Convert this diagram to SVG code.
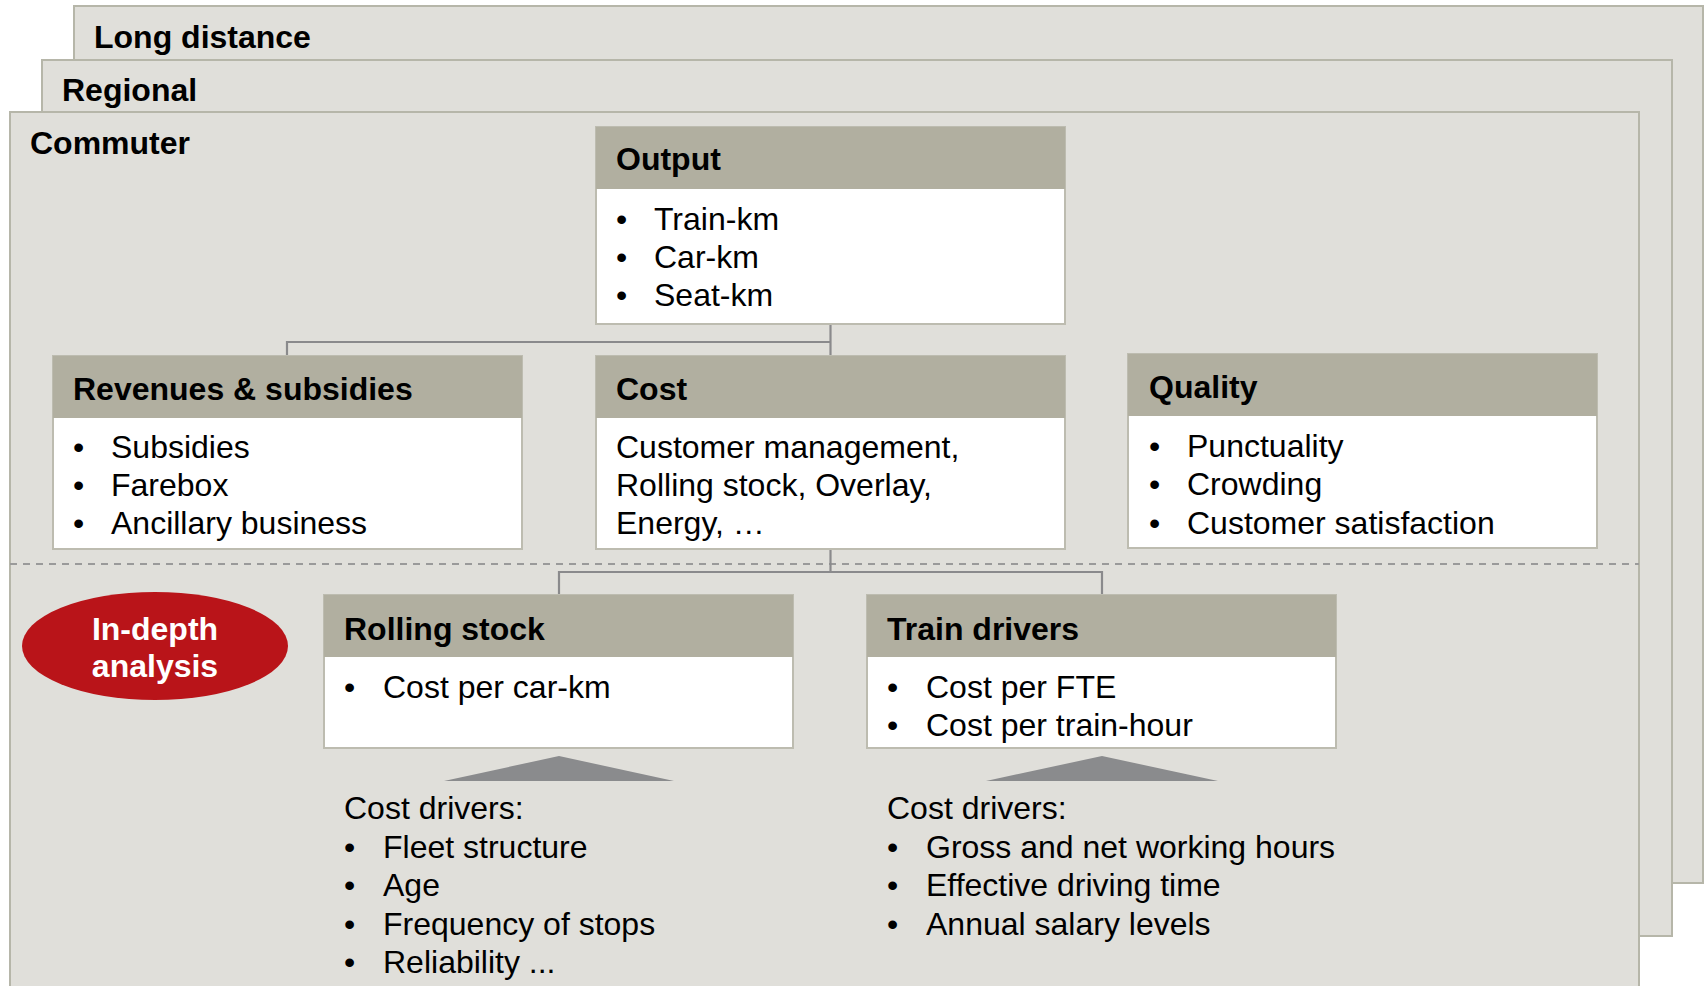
<svg xmlns="http://www.w3.org/2000/svg" width="1705" height="986" viewBox="0 0 1705 986">
<style>
.panel{fill:#E0DFDA;stroke:#B6B6A9;stroke-width:2}
.box{fill:#FFFFFF;stroke:#BDBCB0;stroke-width:2}
.hdr{fill:#B1AFA0}
.t{font-family:"Liberation Sans",Arial,sans-serif;font-size:32px;fill:#000}
.b{font-weight:bold}
.w{fill:#FFFFFF}
.conn{fill:none;stroke:#8A8A8C;stroke-width:2.2}
.tri{fill:#8A8B8D}
</style>
<rect width="1705" height="986" fill="#FFFFFF"/>
<g id="panel-long-distance">
<rect class="panel" x="74" y="6" width="1629" height="877"/>
<text class="t b" x="94" y="48">Long distance</text>
</g>
<g id="panel-regional">
<rect class="panel" x="42" y="60" width="1630" height="876"/>
<text class="t b" x="62" y="101">Regional</text>
</g>
<g id="panel-commuter">
<rect class="panel" x="10" y="112" width="1629" height="880"/>
<text class="t b" x="30" y="154">Commuter</text>
<line x1="10" y1="564" x2="1639" y2="564" stroke="#9A9A9A" stroke-width="2" stroke-dasharray="7,6"/>
</g>
<g id="connectors">
<polyline class="conn" points="830.5,324 830.5,355"/>
<polyline class="conn" points="287,356 287,342 830.5,342"/>
<polyline class="conn" points="830.5,549 830.5,572"/>
<polyline class="conn" points="559,595 559,572 1102,572 1102,595"/>
</g>
<g id="node-output">
<rect class="box" x="596" y="127" width="469" height="197"/>
<rect class="hdr" x="596" y="127" width="469" height="62"/>
<text class="t b" x="616" y="170">Output</text>
<text class="t" x="616" y="230">•</text><text class="t" x="654" y="230">Train-km</text>
<text class="t" x="616" y="268">•</text><text class="t" x="654" y="268">Car-km</text>
<text class="t" x="616" y="306">•</text><text class="t" x="654" y="306">Seat-km</text>
</g>
<g id="node-revenues">
<rect class="box" x="53" y="356" width="469" height="193"/>
<rect class="hdr" x="53" y="356" width="469" height="62"/>
<text class="t b" x="73" y="400">Revenues &amp; subsidies</text>
<text class="t" x="73" y="457.5">•</text><text class="t" x="111" y="457.5">Subsidies</text>
<text class="t" x="73" y="495.5">•</text><text class="t" x="111" y="495.5">Farebox</text>
<text class="t" x="73" y="533.5">•</text><text class="t" x="111" y="533.5">Ancillary business</text>
</g>
<g id="node-cost">
<rect class="box" x="596" y="356" width="469" height="193"/>
<rect class="hdr" x="596" y="356" width="469" height="62"/>
<text class="t b" x="616" y="400">Cost</text>
<text class="t" x="616" y="457.5">Customer management,</text>
<text class="t" x="616" y="495.5">Rolling stock, Overlay,</text>
<text class="t" x="616" y="533.5">Energy, …</text>
</g>
<g id="node-quality">
<rect class="box" x="1128" y="354" width="469" height="194"/>
<rect class="hdr" x="1128" y="354" width="469" height="62"/>
<text class="t b" x="1149" y="398">Quality</text>
<text class="t" x="1149" y="457">•</text><text class="t" x="1187" y="457">Punctuality</text>
<text class="t" x="1149" y="495">•</text><text class="t" x="1187" y="495">Crowding</text>
<text class="t" x="1149" y="533.5">•</text><text class="t" x="1187" y="533.5">Customer satisfaction</text>
</g>
<g id="node-in-depth">
<ellipse cx="155" cy="646" rx="133" ry="54" fill="#B91419"/>
<text class="t b w" x="155" y="640" text-anchor="middle">In-depth</text>
<text class="t b w" x="155" y="677" text-anchor="middle">analysis</text>
</g>
<g id="node-rolling-stock">
<rect class="box" x="324" y="595" width="469" height="153"/>
<rect class="hdr" x="324" y="595" width="469" height="62"/>
<text class="t b" x="344" y="640">Rolling stock</text>
<text class="t" x="344" y="698">•</text><text class="t" x="383" y="698">Cost per car-km</text>
</g>
<g id="node-train-drivers">
<rect class="box" x="867" y="595" width="469" height="153"/>
<rect class="hdr" x="867" y="595" width="469" height="62"/>
<text class="t b" x="887" y="640">Train drivers</text>
<text class="t" x="887" y="698">•</text><text class="t" x="926" y="698">Cost per FTE</text>
<text class="t" x="887" y="736">•</text><text class="t" x="926" y="736">Cost per train-hour</text>
</g>
<g id="node-rolling-drivers">
<polygon class="tri" points="559,756 674,781 444,781"/>
<text class="t" x="344" y="819">Cost drivers:</text>
<text class="t" x="344" y="858">•</text><text class="t" x="383" y="858">Fleet structure</text>
<text class="t" x="344" y="896">•</text><text class="t" x="383" y="896">Age</text>
<text class="t" x="344" y="935">•</text><text class="t" x="383" y="935">Frequency of stops</text>
<text class="t" x="344" y="973">•</text><text class="t" x="383" y="973">Reliability ...</text>
</g>
<g id="node-driver-drivers">
<polygon class="tri" points="1102,756 1218,781 986,781"/>
<text class="t" x="887" y="819">Cost drivers:</text>
<text class="t" x="887" y="858">•</text><text class="t" x="926" y="858">Gross and net working hours</text>
<text class="t" x="887" y="896">•</text><text class="t" x="926" y="896">Effective driving time</text>
<text class="t" x="887" y="935">•</text><text class="t" x="926" y="935">Annual salary levels</text>
</g>
</svg>
